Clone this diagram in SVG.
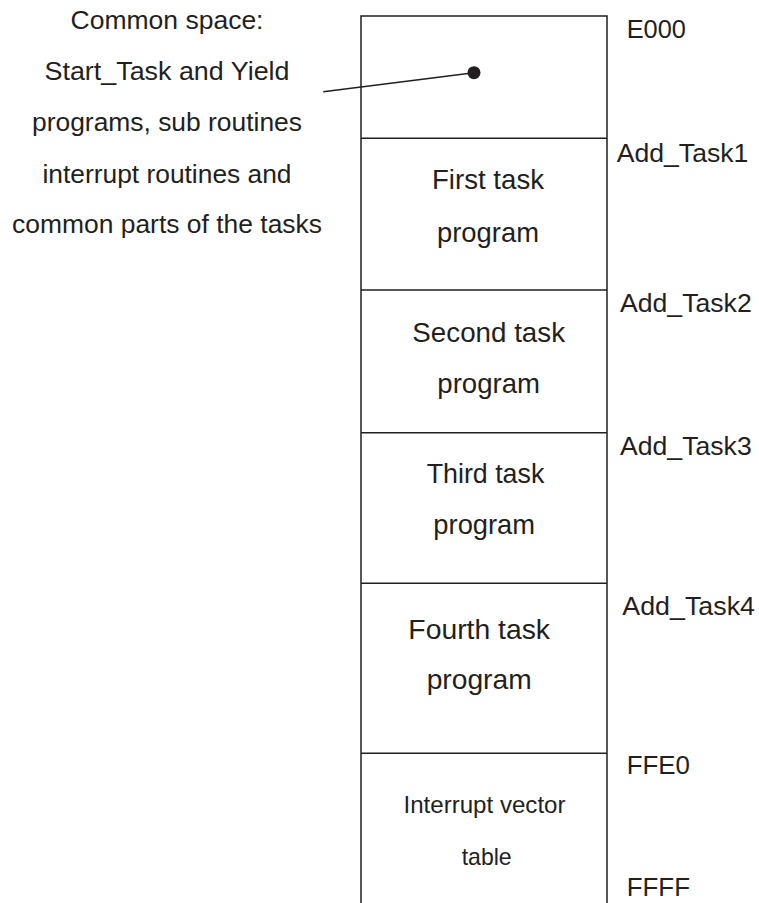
<svg xmlns="http://www.w3.org/2000/svg" width="759" height="903" viewBox="0 0 759 903">
<style>
.ln{stroke:#231f20;stroke-width:1.5;fill:none}
text{font-family:"Liberation Sans",Arial,sans-serif;fill:#231f20;font-size:26px}
.c{text-anchor:middle}
.m{font-size:27.5px}
.s{font-size:24px}
</style>
<rect width="759" height="903" fill="#fff"/>
<g id="memory-column">
<path class="ln" d="M361,903 V16 H607 V903"/>
</g>
<g id="common-space">
<line class="ln" x1="361" y1="138.3" x2="607" y2="138.3"/>
<text x="167" y="29.3" class="c" textLength="193" lengthAdjust="spacingAndGlyphs">Common space:</text>
<text x="167" y="80" class="c" textLength="245" lengthAdjust="spacingAndGlyphs">Start_Task and Yield</text>
<text x="167" y="130.5" class="c" textLength="270" lengthAdjust="spacingAndGlyphs">programs, sub routines</text>
<text x="167" y="182.7" class="c" textLength="249" lengthAdjust="spacingAndGlyphs">interrupt routines and</text>
<text x="167" y="233.3" class="c" textLength="310" lengthAdjust="spacingAndGlyphs">common parts of the tasks</text>
</g>
<g id="task1">
<line class="ln" x1="361" y1="290" x2="607" y2="290"/>
<text x="488" y="188.5" class="c m" textLength="112" lengthAdjust="spacingAndGlyphs">First task</text>
<text x="488" y="241.5" class="c m" textLength="102" lengthAdjust="spacingAndGlyphs">program</text>
</g>
<g id="task2">
<line class="ln" x1="361" y1="432.7" x2="607" y2="432.7"/>
<text x="488.7" y="341.7" class="c m" textLength="152.7" lengthAdjust="spacingAndGlyphs">Second task</text>
<text x="488.7" y="392.7" class="c m" textLength="102.7" lengthAdjust="spacingAndGlyphs">program</text>
</g>
<g id="task3">
<line class="ln" x1="361" y1="583.3" x2="607" y2="583.3"/>
<text x="485.5" y="482.7" class="c m" textLength="117.7" lengthAdjust="spacingAndGlyphs">Third task</text>
<text x="484.2" y="534.3" class="c m" textLength="101.7" lengthAdjust="spacingAndGlyphs">program</text>
</g>
<g id="task4">
<line class="ln" x1="361" y1="753.3" x2="607" y2="753.3"/>
<text x="479.2" y="639.3" class="c m" textLength="141.7" lengthAdjust="spacingAndGlyphs">Fourth task</text>
<text x="479.2" y="689.3" class="c m" textLength="105" lengthAdjust="spacingAndGlyphs">program</text>
</g>
<g id="interrupt-vector-table">
<text x="484.5" y="812.7" class="c s" textLength="162" lengthAdjust="spacingAndGlyphs">Interrupt vector</text>
<text x="486.7" y="865" class="c s" textLength="50" lengthAdjust="spacingAndGlyphs">table</text>
</g>
<g id="address-labels">
<text x="626.7" y="38.3" textLength="59.3" lengthAdjust="spacingAndGlyphs">E000</text>
<text x="616.7" y="161.7" textLength="131.7" lengthAdjust="spacingAndGlyphs">Add_Task1</text>
<text x="620" y="311.7" textLength="131.7" lengthAdjust="spacingAndGlyphs">Add_Task2</text>
<text x="620" y="455" textLength="131.7" lengthAdjust="spacingAndGlyphs">Add_Task3</text>
<text x="622.3" y="615" textLength="132.7" lengthAdjust="spacingAndGlyphs">Add_Task4</text>
<text x="626.7" y="774.3" textLength="63.3" lengthAdjust="spacingAndGlyphs">FFE0</text>
<text x="626.7" y="896" textLength="63.3" lengthAdjust="spacingAndGlyphs">FFFF</text>
</g>
<g id="connectors">
<line class="ln" x1="323.3" y1="91.7" x2="474" y2="72.7"/>
<circle cx="474" cy="72.7" r="6.5" fill="#231f20"/>
</g>
</svg>
